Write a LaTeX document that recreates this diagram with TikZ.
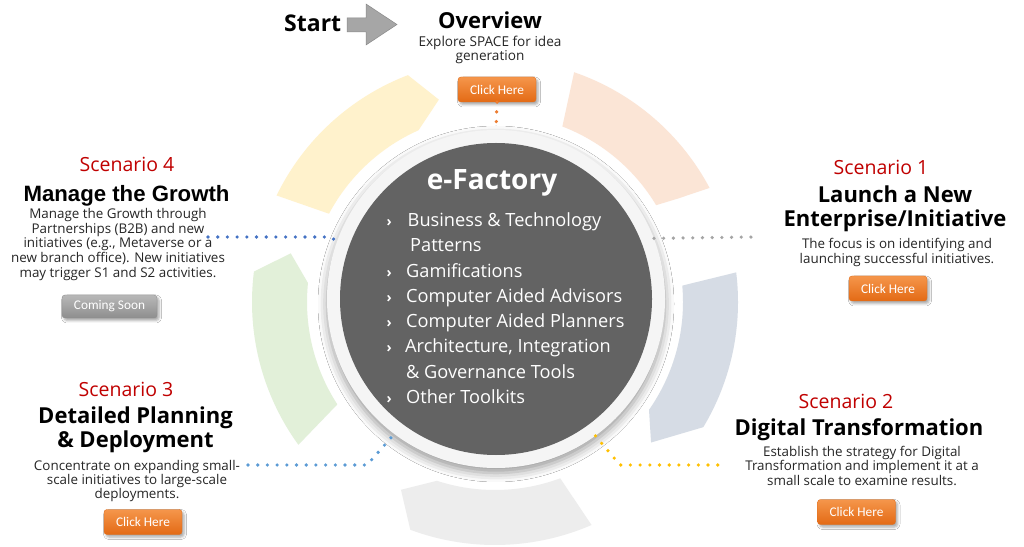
\documentclass[tikz,border=0pt]{standalone}
\usepackage{fontspec}
\setmainfont{Open Sans}
\newfontfamily\carlito{Carlito}
\newfontfamily\arialf{Liberation Sans}
\usetikzlibrary{calc,shadows.blur}
\definecolor{segY}{HTML}{FFF2CC}
\definecolor{segP}{HTML}{FBE5D6}
\definecolor{segB}{HTML}{D6DCE5}
\definecolor{segG}{HTML}{EDEDED}
\definecolor{segL}{HTML}{E2F0D9}
\definecolor{ringc}{HTML}{F5F5F5}
\definecolor{darkc}{HTML}{636363}
\definecolor{redS}{HTML}{C00000}
\definecolor{bodyc}{HTML}{262626}
\definecolor{btnTop}{HTML}{F5964B}
\definecolor{btnBot}{HTML}{E36A15}
\definecolor{btnEdge}{HTML}{E07020}
\definecolor{gbtnTop}{HTML}{B8B8B8}
\definecolor{gbtnBot}{HTML}{8E8E8E}
\definecolor{dotO}{HTML}{ED7D31}
\definecolor{dotB}{HTML}{4472C4}
\definecolor{dotL}{HTML}{5B9BD5}
\definecolor{dotG}{HTML}{A5A5A5}
\definecolor{dotY}{HTML}{FFC000}
\definecolor{arrowc}{HTML}{A6A6A6}
\definecolor{arrowe}{HTML}{8A8A8A}
\newcommand{\ringseg}[6]{%
  \fill[#1] ([shift={(RC)}]#2:243) arc[start angle=#2, end angle=#4, radius=243]
    -- ([shift={(RC)}]#6:210) -- ([shift={(RC)}]#5:188)
    arc[start angle=#5, end angle=#3, radius=188] -- cycle;}
\tikzset{
  btn/.style={rounded corners=3pt, minimum width=78pt, minimum height=25pt, inner sep=0pt,
    top color=btnTop, bottom color=btnBot, draw=btnEdge, line width=0.4pt, text=white,
    font=\carlito\fontsize{13.3}{13.3}\selectfont,
    blur shadow={shadow xshift=2pt, shadow yshift=-2.5pt, shadow blur radius=2.5pt, shadow opacity=35}},
  gbtn/.style={btn, minimum width=95pt, minimum height=23pt, top color=gbtnTop, bottom color=gbtnBot, draw=gbtnBot},
  scen/.style={anchor=base, inner sep=0pt, text=redS, font=\fontsize{19.5}{22}\selectfont},
  headl/.style={anchor=base, inner sep=0pt, align=center, text=black, font=\bfseries\fontsize{22}{24}\selectfont},
  bodyt/.style={anchor=base, inner sep=0pt, align=center, text=bodyc, font=\fontsize{13.4}{15}\selectfont},
  listt/.style={anchor=base west, inner sep=0pt, text=white, font=\fontsize{18.2}{20}\selectfont},
  bul/.style={anchor=base west, inner sep=0pt, text=white, font=\bfseries\fontsize{14}{20}\selectfont},
  dotline/.style={line width=3.6pt, line cap=round, dash pattern=on 0pt off 9.7pt}
}
\begin{document}
\begin{tikzpicture}[x=1pt,y=1pt]
\fill[white] (0,0) rectangle (1024,546);
\useasboundingbox (0,0) rectangle (1024,546);
\coordinate (RC) at (495,244);
% ring segments (tail outer, tail inner, head outer, head inner, tip)
\ringseg{segY}{154}{152}{111}{114}{105.5}
\ringseg{segP}{71}{69}{28}{31}{29.5}
\ringseg{segB}{7}{5}{-31}{-35}{-42}
\ringseg{segG}{-66.6}{-69.7}{-110.4}{-108}{-116.6}
\ringseg{segL}{216}{213}{172.8}{174.2}{166.6}
% core
\node[circle, fill=ringc, minimum size=338pt, inner sep=0pt,
  blur shadow={shadow xshift=0pt, shadow yshift=-5pt, shadow blur radius=9pt, shadow opacity=40}] (core) at (496,247) {};
\node[circle, fill=darkc, minimum size=312pt, inner sep=0pt] (corein) at (496,247) {};
\node[anchor=base, inner sep=0pt, text=white, font=\bfseries\fontsize{28}{30}\selectfont] (ef) at (492,356) {e-Factory};
\node[bul] (b1) at (386.5,319.3) {›};
\node[listt] (l1) at (407.5,319.3) {Business \& Technology};
\node[listt] (l1b) at (410,294.1) {Patterns};
\node[bul] (b2) at (386.5,268.8) {›};
\node[listt] (l2) at (406,268.8) {Gamifications};
\node[bul] (b3) at (386.5,243.6) {›};
\node[listt] (l3) at (406,243.6) {Computer Aided Advisors};
\node[bul] (b4) at (386.5,218.4) {›};
\node[listt] (l4) at (406,218.4) {Computer Aided Planners};
\node[bul] (b5) at (386.5,193.2) {›};
\node[listt] (l5) at (405,193.2) {Architecture, Integration};
\node[listt] (l5b) at (406,167.9) {\& Governance Tools};
\node[bul] (b6) at (386.5,142.7) {›};
\node[listt] (l6) at (406,142.7) {Other Toolkits};
% start / overview
\node[anchor=base west, inner sep=0pt, font=\bfseries\fontsize{23}{25}\selectfont] (start) at (284,514.5) {Start};
\fill[arrowc, draw=arrowe, line width=0.5pt] (347,528) -- (366,528) -- (366,542) -- (397,521.5) -- (366,501) -- (366,514) -- (347,514) -- cycle;
\node[headl] (ov) at (490,517.7) {Overview};
\node[bodyt, font=\fontsize{13.6}{13.6}\selectfont] (ovt) at (490,485.7) {Explore SPACE for idea\\generation};
\node[btn] (btnO) at (497,456.5) {Click Here};
% scenario 4
\node[scen] (s4lab) at (127,374) {Scenario 4};
\node[headl, font=\arialf\bfseries\fontsize{22.2}{24}\selectfont] (s4t) at (126.5,344) {Manage the Growth};
\node[bodyt, font=\fontsize{13.4}{14.75}\selectfont] (s4b) at (118,268.7) {Manage the Growth through\\Partnerships (B2B) and new\\initiatives (e.g., Metaverse or a\\new branch office). New initiatives\\may trigger S1 and S2 activities.};
\node[gbtn] (btn4) at (109.5,239.5) {Coming Soon};
% scenario 1
\node[scen] (s1lab) at (881,371) {Scenario 1};
\node[headl] (s1t) at (895,319) {Launch a New\\Enterprise/Initiative};
\node[bodyt] (s1b) at (897,282) {The focus is on identifying and\\launching successful initiatives.};
\node[btn] (btn1) at (888,257.5) {Click Here};
% scenario 3
\node[scen] (s3lab) at (126,149) {Scenario 3};
\node[headl] (s3t) at (135.5,99) {Detailed Planning\\\& Deployment};
\node[bodyt, font=\fontsize{13.4}{14}\selectfont] (s3b) at (137,48) {Concentrate on expanding small-\\scale initiatives to large-scale\\deployments.};
\node[btn] (btn3) at (143,24) {Click Here};
% scenario 2
\node[scen] (s2lab) at (846,137) {Scenario 2};
\node[headl] (s2t) at (859,111) {Digital Transformation};
\node[bodyt, font=\fontsize{13.4}{14.5}\selectfont] (s2b) at (862,61) {Establish the strategy for Digital\\Transformation and implement it at a\\small scale to examine results.};
\node[btn] (btn2) at (856.5,34) {Click Here};
% connectors
\coordinate (s4end) at (208,309);
\coordinate (s1end) at (755,309);
\coordinate (s3end) at (248,81);
\coordinate (s2end) at (722,81);
\draw[dotline, dotO] (btnO.south) -- (core.north);
\draw[dotline, dotB] (s4end) -- (330,309) -- (core.160.7);
\draw[dotline, dotG] (core.21.5) -- (s1end);
\draw[dotline, dotL] (s3end) -- (367,81) -- (core.233);
\draw[dotline, dotY] (core.-54) -- (620,81) -- (s2end);
\end{tikzpicture}
\end{document}
